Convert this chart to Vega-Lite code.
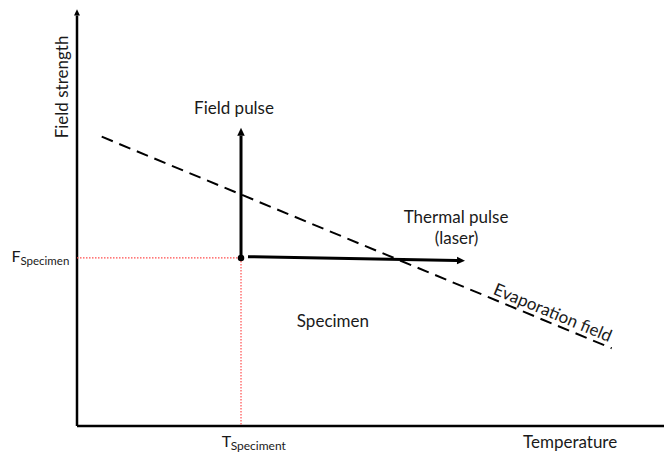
{
  "$schema": "https://vega.github.io/schema/vega-lite/v6.json",
  "width": 587,
  "height": 416,
  "autosize": {"type": "none"},
  "padding": {"left": 77, "top": 10, "right": 0, "bottom": 29},
  "background": "white",
  "config": {"view": {"stroke": null}, "text": {"font": "Lato", "color": "#1a1a1a"}},
  "datasets": {
    "axes": [
      {"x": 0, "y": 0, "x2": 100, "y2": 0},
      {"x": 0, "y": 0, "x2": 0, "y2": 98.68}
    ],
    "guides": [
      {"x": 0, "y": 40.4, "x2": 27.94, "y2": 40.4},
      {"x": 27.94, "y": 40.4, "x2": 27.94, "y2": 0}
    ],
    "pulses": [
      {"pulse": "Field pulse", "x": 27.94, "y": 40.4, "x2": 27.94, "y2": 69.78},
      {"pulse": "Thermal pulse", "x": 29.13, "y": 40.7, "x2": 64.74, "y2": 39.78}
    ],
    "evaporation": [
      {"x": 4.21, "y": 69.55, "x2": 91.09, "y2": 18.68}
    ],
    "heads": [
      {"x": 27.94, "y": 69.78, "angle": 0, "size": 256},
      {"x": 64.74, "y": 39.78, "angle": 91, "size": 256},
      {"x": 0, "y": 98.68, "angle": 0, "size": 160}
    ],
    "specimen": [
      {"x": 27.94, "y": 40.4}
    ],
    "centerText": [
      {"label": "Field pulse", "x": 26.75, "y": 75.0, "angle": 0, "size": 17},
      {"label": "Thermal pulse", "x": 64.57, "y": 48.9, "angle": 0, "size": 17},
      {"label": "(laser)", "x": 64.65, "y": 43.87, "angle": 0, "size": 17},
      {"label": "Specimen", "x": 43.6, "y": 23.9, "angle": 0, "size": 17},
      {"label": "Evaporation field", "x": 80.66, "y": 25.96, "angle": 22.6, "size": 17},
      {"label": "Field strength", "x": -1.53, "y": 81.5, "angle": 270, "size": 17},
      {"label": "Temperature", "x": 84.0, "y": -5.36, "angle": 0, "size": 17}
    ],
    "leftText": [
      {"label": "T", "x": 24.65, "y": -5.12, "size": 16},
      {"label": "Speciment", "x": 26.18, "y": -5.77, "size": 12},
      {"label": "Specimen", "x": -9.63, "y": 38.7, "size": 11.5}
    ],
    "rightText": [
      {"label": "F", "x": -9.63, "y": 39.54, "size": 16}
    ]
  },
  "layer": [
    {
      "data": {"name": "axes"},
      "mark": {"type": "rule", "color": "black", "strokeWidth": 2.5},
      "encoding": {
        "x": {"field": "x", "type": "quantitative", "scale": {"domain": [0, 100], "nice": false, "zero": false}, "axis": null},
        "y": {"field": "y", "type": "quantitative", "scale": {"domain": [0, 100], "nice": false, "zero": false}, "axis": null},
        "x2": {"field": "x2"},
        "y2": {"field": "y2"}
      }
    },
    {
      "data": {"name": "guides"},
      "mark": {"type": "rule", "color": "#ff4d4d", "strokeWidth": 1.2, "strokeDash": [1.5, 1.5]},
      "encoding": {
        "x": {"field": "x", "type": "quantitative", "scale": {"domain": [0, 100], "nice": false, "zero": false}, "axis": null},
        "y": {"field": "y", "type": "quantitative", "scale": {"domain": [0, 100], "nice": false, "zero": false}, "axis": null},
        "x2": {"field": "x2"},
        "y2": {"field": "y2"}
      }
    },
    {
      "data": {"name": "evaporation"},
      "mark": {"type": "rule", "color": "black", "strokeWidth": 2, "strokeDash": [12, 7]},
      "encoding": {
        "x": {"field": "x", "type": "quantitative", "scale": {"domain": [0, 100], "nice": false, "zero": false}, "axis": null},
        "y": {"field": "y", "type": "quantitative", "scale": {"domain": [0, 100], "nice": false, "zero": false}, "axis": null},
        "x2": {"field": "x2"},
        "y2": {"field": "y2"}
      }
    },
    {
      "data": {"name": "pulses"},
      "mark": {"type": "rule", "color": "black", "strokeWidth": 3},
      "encoding": {
        "x": {"field": "x", "type": "quantitative", "scale": {"domain": [0, 100], "nice": false, "zero": false}, "axis": null},
        "y": {"field": "y", "type": "quantitative", "scale": {"domain": [0, 100], "nice": false, "zero": false}, "axis": null},
        "x2": {"field": "x2"},
        "y2": {"field": "y2"}
      }
    },
    {
      "data": {"name": "heads"},
      "mark": {"type": "point", "filled": true, "color": "black", "opacity": 1, "shape": "M0,-1L-0.47,0L0.47,0Z"},
      "encoding": {
        "x": {"field": "x", "type": "quantitative", "scale": {"domain": [0, 100], "nice": false, "zero": false}, "axis": null},
        "y": {"field": "y", "type": "quantitative", "scale": {"domain": [0, 100], "nice": false, "zero": false}, "axis": null},
        "angle": {"field": "angle", "type": "quantitative", "scale": null},
        "size": {"field": "size", "type": "quantitative", "scale": null}
      }
    },
    {
      "data": {"name": "specimen"},
      "mark": {"type": "point", "filled": true, "color": "black", "opacity": 1, "shape": "circle", "size": 42},
      "encoding": {
        "x": {"field": "x", "type": "quantitative", "scale": {"domain": [0, 100], "nice": false, "zero": false}, "axis": null},
        "y": {"field": "y", "type": "quantitative", "scale": {"domain": [0, 100], "nice": false, "zero": false}, "axis": null}
      }
    },
    {
      "data": {"name": "centerText"},
      "mark": {"type": "text", "align": "center", "baseline": "alphabetic"},
      "encoding": {
        "x": {"field": "x", "type": "quantitative", "scale": {"domain": [0, 100], "nice": false, "zero": false}, "axis": null},
        "y": {"field": "y", "type": "quantitative", "scale": {"domain": [0, 100], "nice": false, "zero": false}, "axis": null},
        "text": {"field": "label"},
        "angle": {"field": "angle", "type": "quantitative", "scale": null},
        "size": {"field": "size", "type": "quantitative", "scale": null}
      }
    },
    {
      "data": {"name": "leftText"},
      "mark": {"type": "text", "align": "left", "baseline": "alphabetic"},
      "encoding": {
        "x": {"field": "x", "type": "quantitative", "scale": {"domain": [0, 100], "nice": false, "zero": false}, "axis": null},
        "y": {"field": "y", "type": "quantitative", "scale": {"domain": [0, 100], "nice": false, "zero": false}, "axis": null},
        "text": {"field": "label"},
        "size": {"field": "size", "type": "quantitative", "scale": null}
      }
    },
    {
      "data": {"name": "rightText"},
      "mark": {"type": "text", "align": "right", "baseline": "alphabetic"},
      "encoding": {
        "x": {"field": "x", "type": "quantitative", "scale": {"domain": [0, 100], "nice": false, "zero": false}, "axis": null},
        "y": {"field": "y", "type": "quantitative", "scale": {"domain": [0, 100], "nice": false, "zero": false}, "axis": null},
        "text": {"field": "label"},
        "size": {"field": "size", "type": "quantitative", "scale": null}
      }
    }
  ]
}
